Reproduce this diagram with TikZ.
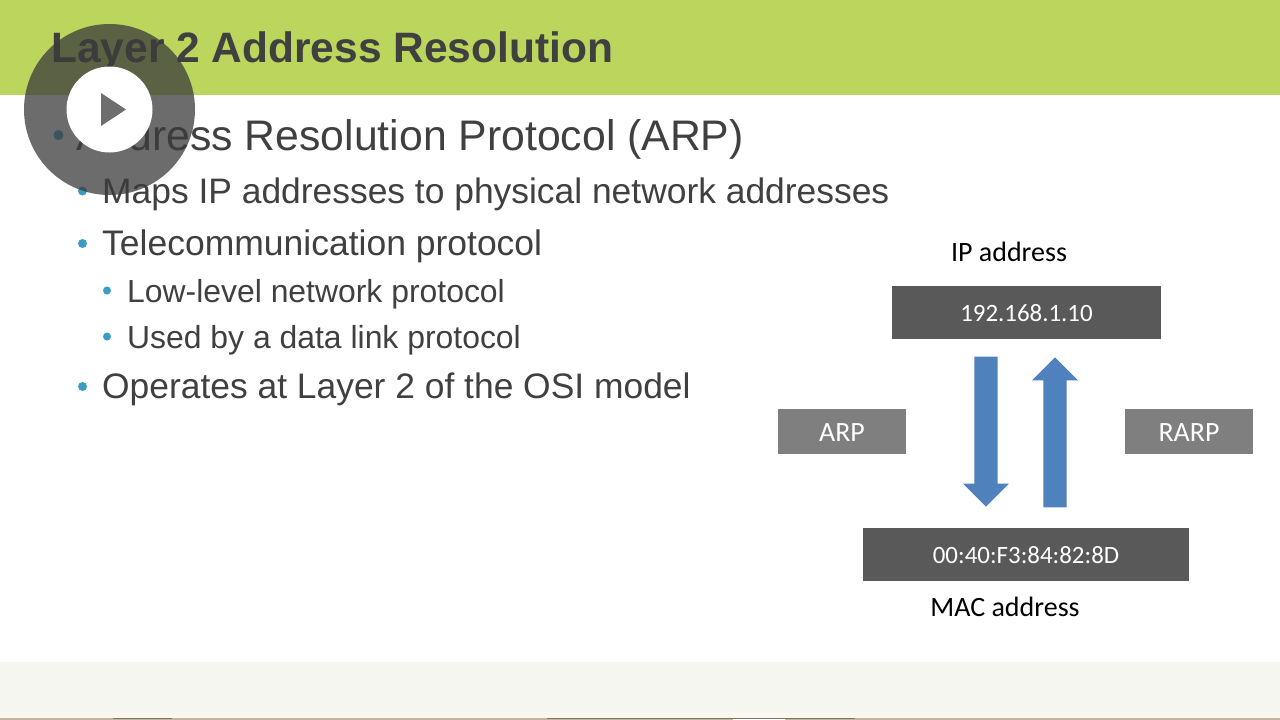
\documentclass[tikz,border=0pt]{standalone}
\usepackage{fontspec}
\setmainfont{Liberation Sans}
\newfontfamily\calibrifont{Carlito}
\usetikzlibrary{shapes,positioning,calc}
\definecolor{bannergreen}{HTML}{BBD55D}
\definecolor{footcream}{HTML}{F6F6F0}
\definecolor{footglow}{HTML}{FAF7F0}
\definecolor{footstrip}{HTML}{C4B698}
\definecolor{tabline}{HTML}{7A7766}
\definecolor{inktext}{HTML}{404040}
\definecolor{dotblue}{HTML}{3C9DC4}
\definecolor{arrowblue}{HTML}{4F81BD}
\definecolor{darkbox}{HTML}{595959}
\definecolor{lightbox}{HTML}{7F7F7F}
\newcommand{\nudgedown}[2]{\raisebox{-#1}[\height][\depth]{#2}}
\tikzset{
    bodyline/.style={anchor=base west, inner sep=0pt, text=inktext},
    valuebox/.style={fill=darkbox, text=white, inner sep=0pt, font=\calibrifont\fontsize{24.9}{25}\selectfont},
    protobox/.style={fill=lightbox, text=white, inner sep=0pt, minimum width=128pt, minimum height=45pt, font=\calibrifont\fontsize{27.9}{28}\selectfont},
    captiontext/.style={inner sep=0pt, text=black, font=\calibrifont\fontsize{28}{28}\selectfont},
    blockarrow/.style={shape=single arrow, fill=arrowblue, inner xsep=0pt, inner ysep=11.5pt, minimum width=46pt, minimum height=150pt, single arrow head extend=11.5pt, single arrow tip angle=90, anchor=tip}
}
\begin{document}
\begin{tikzpicture}[x=1pt, y=-1pt]
    \useasboundingbox (0,0) rectangle (1280,720);

    % Page bands
    \fill[white] (0,0) rectangle (1280,720);
    \fill[bannergreen] (0,0) rectangle (1280,95);
    \fill[footcream] (0,662) rectangle (1280,712);
    \fill[footglow] (0,712) rectangle (1280,718);
    \fill[footstrip] (0,718) rectangle (1280,720);

    % Tabs along the bottom edge
    \foreach \from/\to in {113/172, 547/855} {
        \fill[tabline] (\from,717.5) rectangle (\to,718.5);
    }
    \fill[white] (733,718.5) rectangle (785,720);

    % Title and bullets
    \node[bodyline, font=\bfseries\fontsize{42.5}{42}\selectfont] (title) at (51,62) {Layer 2 Address Resolution};
    \foreach \n/\dotx/\doty/\dotr/\textx/\basey/\size/\txt in {
        a/58.5/135/5/76/150.5/42.75/Address Resolution Protocol (ARP),
        b/82.5/191/4.5/102/203/35.4/Maps IP addresses to physical network addresses,
        c/82.5/243.5/4.5/102/255/35.5/Telecommunication protocol,
        d/107/290.5/4/127/302/31.9/Low-level network protocol,
        e/107/336.5/4/127/348/31.9/Used by a data link protocol,
        f/82.5/386.5/4.5/102/398/35.4/Operates at Layer 2 of the OSI model} {
        \fill[dotblue] (\dotx,\doty) circle (\dotr) coordinate (dot\n);
        \node[bodyline, font=\fontsize{\size}{\size}\selectfont] (line\n) at (\textx,\basey) {\txt};
    }

    % Address boxes
    \node[captiontext] (ipcaption) at (1009,252) {IP address};
    \node[valuebox, minimum width=269pt, minimum height=53pt] (ipbox) at (1026.5,312.5) {\nudgedown{1pt}{192.168.1.10}};
    \node[valuebox, minimum width=326pt, minimum height=53pt] (macbox) at (1026,554.5) {\nudgedown{1pt}{00:40:F3:84:82:8D}};
    \node[captiontext] (maccaption) at (1005,607) {MAC address};
    \node[protobox] (arpbox) at (842,431.5) {\nudgedown{1.5pt}{ARP}};
    \node[protobox] (rarpbox) at (1189,431.5) {\nudgedown{1.5pt}{RARP}};

    % Block arrows
    \node[blockarrow, rotate=-90] (downarrow) at (986,507) {};
    \node[blockarrow, rotate=90] (uparrow) at (1055,357) {};

    % Play button overlay
    \fill[black!77, opacity=0.75] (109.5,109.5) circle (85.5) coordinate (playring);
    \fill[white] (109.5,109.5) circle (43) coordinate (playdisc);
    \fill[black!57] (101,93) -- (126,109.5) -- (101,126) -- cycle;
\end{tikzpicture}
\end{document}
